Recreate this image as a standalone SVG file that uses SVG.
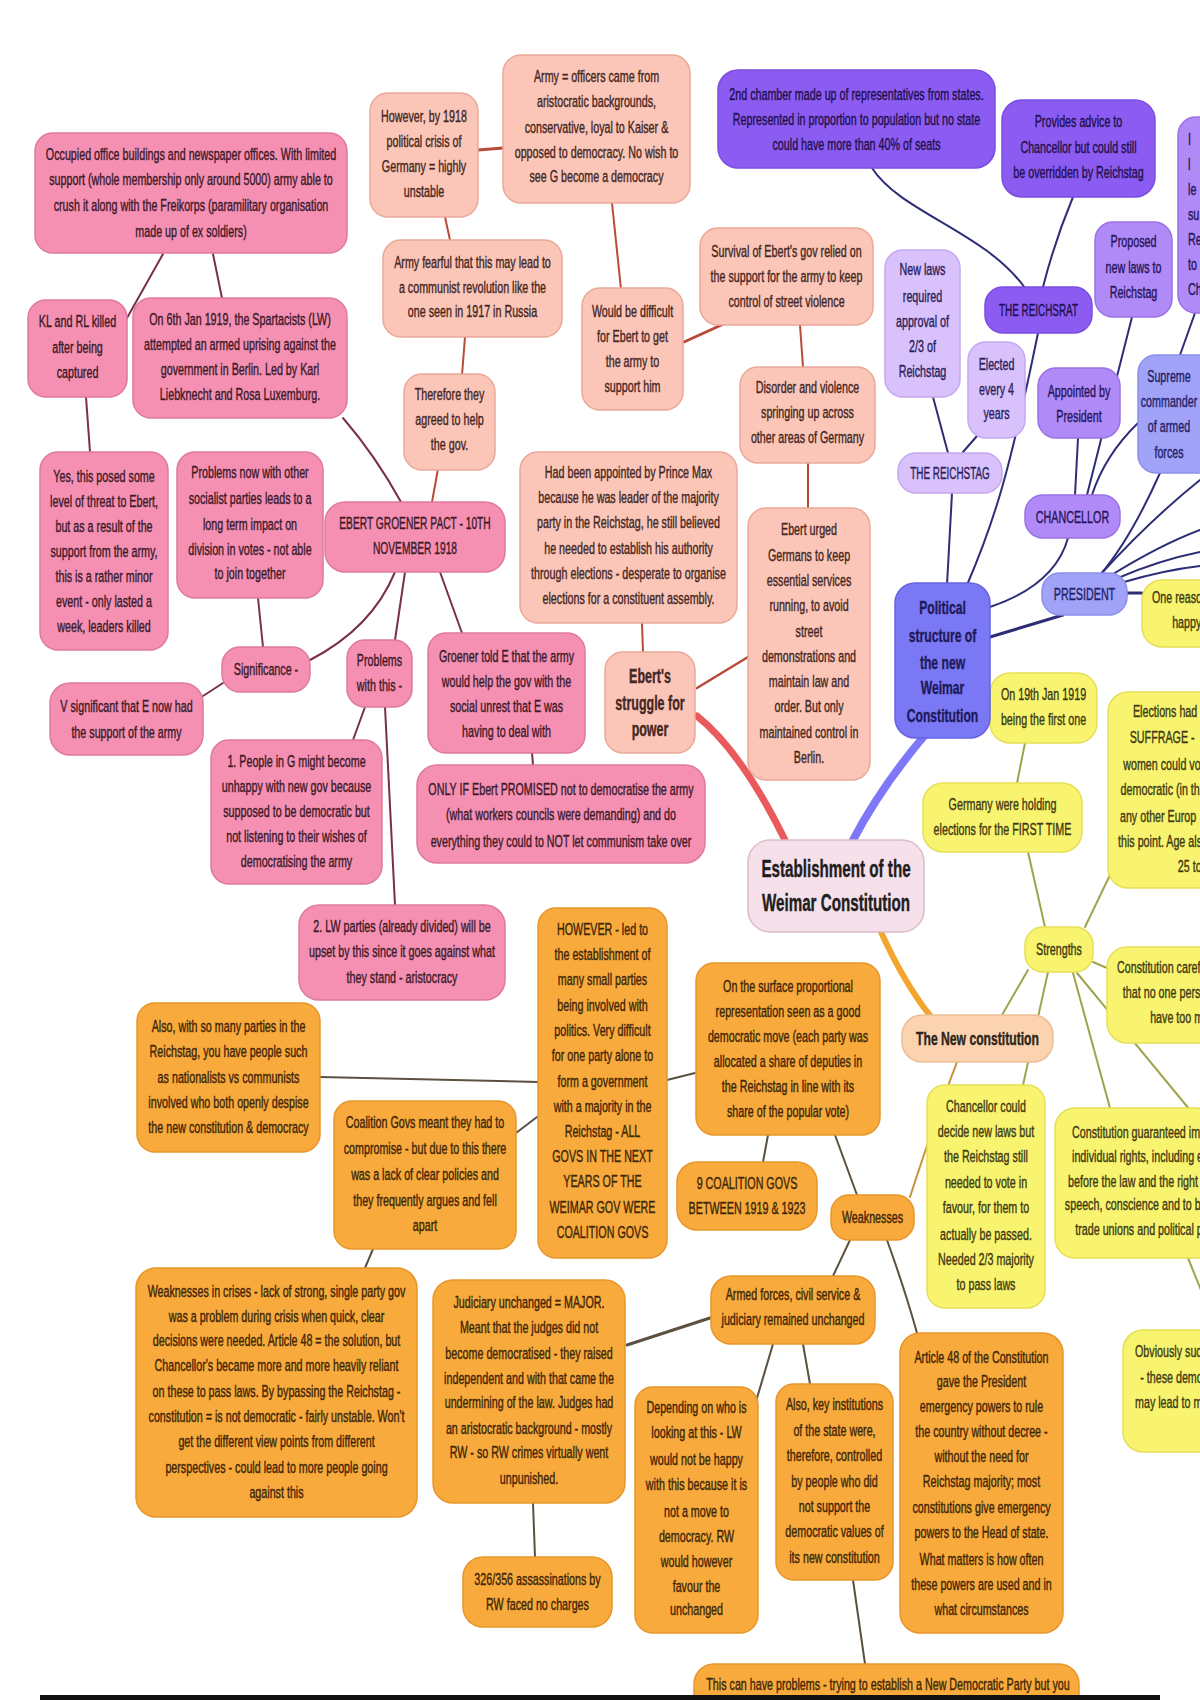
<svg xmlns="http://www.w3.org/2000/svg" width="1200" height="1700" viewBox="0 0 1200 1700">
<style>
.t{font-family:"Liberation Sans",Arial,sans-serif;font-size:16.5px;text-anchor:middle;stroke-width:.4}
.s{text-anchor:start}
.b{font-weight:bold}
rect{stroke-width:1.5}
.pk rect{fill:#f590b3;stroke:#de7a9c}.pk text{fill:#3c1a28;stroke:#3c1a28}
.sa rect{fill:#fbc6b8;stroke:#eaa898}.sa text{fill:#452723;stroke:#452723}
.pd rect{fill:#8c5cf2;stroke:#7a4de0}.pd text{fill:#22104e;stroke:#22104e}
.pm rect{fill:#b08af6;stroke:#9a72e6}.pm text{fill:#26155a;stroke:#26155a}
.pl rect{fill:#d9c2fb;stroke:#c4a8f0}.pl text{fill:#2c1e5c;stroke:#2c1e5c}
.pv rect{fill:#7b78f5;stroke:#6663e2}.pv text{fill:#1e1a5a;stroke:#1e1a5a}
.pb rect{fill:#a1a3f9;stroke:#8c8eec}.pb text{fill:#22226a;stroke:#22226a}
.ye rect{fill:#f9f46f;stroke:#e6df55}.ye text{fill:#3e3a12;stroke:#3e3a12}
.or rect{fill:#f8aa3c;stroke:#e8962a}.or text{fill:#3e2608;stroke:#3e2608}
.nc rect{fill:#fbd3b0;stroke:#ecbe98}.nc text{fill:#2e2418;stroke:#2e2418}
.es rect{fill:#f6e0ea;stroke:#dcbccc}.es text{fill:#1e1e1e;stroke:#1e1e1e}
#links path{fill:none;stroke-linecap:round}
.lp{stroke:#7a3048;stroke-width:2}
.ls{stroke:#b84a38;stroke-width:2}
.lu{stroke:#2e2e78;stroke-width:2}
.ly{stroke:#a0a24c;stroke-width:2}
.lo{stroke:#5c5040;stroke-width:2}
</style>
<rect width="1200" height="1700" fill="#ffffff"/>
<g id="links">
<path class="lp" d="M163,254 L127,318"/>
<path class="lp" d="M213,254 L222,298"/>
<path class="lp" d="M86,397 L90,452"/>
<path class="lp" d="M343,418 Q375,455 401,502"/>
<path class="lp" d="M258,598 L263,647"/>
<path class="lp" d="M203,696 L223,683"/>
<path class="lp" d="M395,572 Q372,628 310,660"/>
<path class="lp" d="M405,572 L395,640"/>
<path class="lp" d="M440,572 L462,633"/>
<path class="lp" d="M365,707 L353,740"/>
<path class="lp" d="M385,707 L395,905"/>
<path class="lp" d="M532,753 L533,765"/>
<path class="ls" style="stroke-width:3" d="M478,150 L503,148"/>
<path class="ls" d="M445,217 L450,240"/>
<path class="ls" d="M465,337 L462,375"/>
<path class="ls" d="M438,469 L432,502"/>
<path class="ls" d="M612,203 L621,289"/>
<path class="ls" style="stroke-width:3" d="M684,342 L728,322"/>
<path class="ls" d="M800,325 L803,367"/>
<path class="ls" d="M808,463 L808,508"/>
<path class="ls" d="M642,623 L643,652"/>
<path class="ls" style="stroke-width:2.5" d="M697,688 L748,657"/>
<path d="M697,716 Q742,752 786,842" style="stroke:#ea5a5c;stroke-width:7"/>
<path d="M852,842 Q880,788 925,735" style="stroke:#7d78f8;stroke-width:8"/>
<path d="M880,930 Q905,985 932,1018" style="stroke:#f4a530;stroke-width:6"/>
<path class="lu" d="M947,585 L952,493"/>
<path class="lu" d="M967,585 C995,520 1010,470 1038,333"/>
<path class="lu" d="M990,607 Q1055,585 1068,538"/>
<path class="lu" style="stroke-width:3" d="M990,637 L1063,615"/>
<path class="lu" d="M948,453 L933,397"/>
<path class="lu" d="M963,452 L977,436"/>
<path class="lu" d="M1025,288 C985,232 900,212 872,168"/>
<path class="lu" d="M1043,287 Q1055,240 1073,197"/>
<path class="lu" d="M1075,495 L1078,438"/>
<path class="lu" d="M1132,317 L1087,495"/>
<path class="lu" d="M1138,423 Q1105,455 1092,495"/>
<path class="lu" d="M1195,313 L1180,355"/>
<path class="lu" d="M1160,473 Q1130,540 1100,575"/>
<path class="lu" d="M1100,575 Q1150,520 1200,480"/>
<path class="lu" d="M1110,576 Q1160,545 1200,530"/>
<path class="lu" d="M1118,578 Q1160,560 1200,552"/>
<path class="lu" d="M1124,582 Q1165,570 1200,566"/>
<path class="lu" style="stroke-width:3" d="M1127,593 L1142,593"/>
<path class="ly" d="M1002,1015 L1028,970"/>
<path class="ly" d="M1048,972 L1023,1085"/>
<path d="M957,1062 Q935,1120 910,1197" style="stroke:#c8903a;stroke-width:2"/>
<path class="ly" d="M1093,962 L1107,968"/>
<path class="ly" d="M1073,973 L1110,1108"/>
<path class="ly" d="M1077,973 L1190,1110"/>
<path class="ly" d="M1188,1258 L1205,1300"/>
<path class="ly" d="M1028,852 L1045,927"/>
<path class="ly" d="M1085,927 L1110,875"/>
<path class="ly" d="M1025,743 L1017,783"/>
<path class="lo" d="M857,1195 L835,1135"/>
<path class="lo" d="M768,1135 L763,1162"/>
<path class="lo" d="M695,1073 L667,1080"/>
<path class="lo" d="M320,1077 L538,1082"/>
<path class="lo" d="M537,1117 L516,1133"/>
<path class="lo" d="M373,1249 L365,1268"/>
<path class="lo" d="M850,1240 L833,1276"/>
<path class="lo" d="M887,1240 Q905,1290 917,1333"/>
<path class="lo" style="stroke-width:3" d="M627,1345 L710,1318"/>
<path class="lo" d="M773,1344 L757,1398"/>
<path class="lo" d="M803,1344 L810,1384"/>
<path class="lo" d="M853,1580 L865,1664"/>
<path class="lo" d="M533,1503 L535,1557"/>
</g>

<g id="occupied" class="pk"><rect x="35" y="133" width="312" height="120" rx="18"/><text class="t" transform="translate(191 0) scale(.65 1)"><tspan x="0" y="160">Occupied office buildings and newspaper offices. With limited</tspan><tspan x="0" y="185">support (whole membership only around 5000) army able to</tspan><tspan x="0" y="211">crush it along with the Freikorps (paramilitary organisation</tspan><tspan x="0" y="237">made up of ex soldiers)</tspan></text></g>
<g id="kl" class="pk"><rect x="28" y="300" width="99" height="97" rx="18"/><text class="t" transform="translate(77.5 0) scale(.65 1)"><tspan x="0" y="327">KL and RL killed</tspan><tspan x="0" y="353">after being</tspan><tspan x="0" y="378">captured</tspan></text></g>
<g id="jan6" class="pk"><rect x="133" y="298" width="214" height="120" rx="18"/><text class="t" transform="translate(240 0) scale(.65 1)"><tspan x="0" y="325">On 6th Jan 1919, the Spartacists (LW)</tspan><tspan x="0" y="350">attempted an armed uprising against the</tspan><tspan x="0" y="375">government in Berlin. Led by Karl</tspan><tspan x="0" y="400">Liebknecht and Rosa Luxemburg.</tspan></text></g>
<g id="however" class="sa"><rect x="370" y="93" width="108" height="124" rx="18"/><text class="t" transform="translate(424 0) scale(.65 1)"><tspan x="0" y="122">However, by 1918</tspan><tspan x="0" y="147">political crisis of</tspan><tspan x="0" y="172">Germany = highly</tspan><tspan x="0" y="197">unstable</tspan></text></g>
<g id="armyoff" class="sa"><rect x="503" y="55" width="187" height="148" rx="18"/><text class="t" transform="translate(596.5 0) scale(.65 1)"><tspan x="0" y="82">Army = officers came from</tspan><tspan x="0" y="107">aristocratic backgrounds,</tspan><tspan x="0" y="133">conservative, loyal to Kaiser &amp;</tspan><tspan x="0" y="158">opposed to democracy. No wish to</tspan><tspan x="0" y="182">see G become a democracy</tspan></text></g>
<g id="fearful" class="sa"><rect x="383" y="240" width="179" height="97" rx="18"/><text class="t" transform="translate(472.5 0) scale(.65 1)"><tspan x="0" y="268">Army fearful that this may lead to</tspan><tspan x="0" y="293">a communist revolution like the</tspan><tspan x="0" y="317">one seen in 1917 in Russia</tspan></text></g>
<g id="difficult" class="sa"><rect x="582" y="288" width="101" height="122" rx="18"/><text class="t" transform="translate(632.5 0) scale(.65 1)"><tspan x="0" y="317">Would be difficult</tspan><tspan x="0" y="342">for Ebert to get</tspan><tspan x="0" y="367">the army to</tspan><tspan x="0" y="392">support him</tspan></text></g>
<g id="therefore" class="sa"><rect x="404" y="374" width="91" height="96" rx="18"/><text class="t" transform="translate(449.5 0) scale(.65 1)"><tspan x="0" y="400">Therefore they</tspan><tspan x="0" y="425">agreed to help</tspan><tspan x="0" y="450">the gov.</tspan></text></g>
<g id="chamber2" class="pd"><rect x="718" y="70" width="277" height="98" rx="20"/><text class="t" transform="translate(856.5 0) scale(.65 1)"><tspan x="0" y="100">2nd chamber made up of representatives from states.</tspan><tspan x="0" y="125">Represented in proportion to population but no state</tspan><tspan x="0" y="150">could have more than 40% of seats</tspan></text></g>
<g id="advice" class="pd"><rect x="1002" y="100" width="153" height="97" rx="20"/><text class="t" transform="translate(1078.5 0) scale(.65 1)"><tspan x="0" y="127">Provides advice to</tspan><tspan x="0" y="153">Chancellor but could still</tspan><tspan x="0" y="178">be overridden by Reichstag</tspan></text></g>
<g id="survival" class="sa"><rect x="700" y="228" width="173" height="97" rx="18"/><text class="t" transform="translate(786.5 0) scale(.65 1)"><tspan x="0" y="257">Survival of Ebert's gov relied on</tspan><tspan x="0" y="282">the support for the army to keep</tspan><tspan x="0" y="307">control of street violence</tspan></text></g>
<g id="newlaws" class="pl"><rect x="885" y="250" width="75" height="147" rx="18"/><text class="t" transform="translate(922.5 0) scale(.65 1)"><tspan x="0" y="275">New laws</tspan><tspan x="0" y="302">required</tspan><tspan x="0" y="327">approval of</tspan><tspan x="0" y="352">2/3 of</tspan><tspan x="0" y="377">Reichstag</tspan></text></g>
<g id="reichsrat" class="pd"><rect x="985" y="287" width="107" height="46" rx="18"/><text class="t" transform="translate(1038.5 0) scale(.6 1)"><tspan x="0" y="316">THE REICHSRAT</tspan></text></g>
<g id="proposed" class="pm"><rect x="1095" y="222" width="77" height="95" rx="18"/><text class="t" transform="translate(1133.5 0) scale(.65 1)"><tspan x="0" y="247">Proposed</tspan><tspan x="0" y="273">new laws to</tspan><tspan x="0" y="298">Reichstag</tspan></text></g>
<g id="rightedge" class="pm"><rect x="1178" y="117" width="70" height="196" rx="18"/><text class="t s" transform="translate(1188 0) scale(.65 1)"><tspan x="0" y="145">I</tspan><tspan x="0" y="170">l</tspan><tspan x="0" y="195">le</tspan><tspan x="0" y="220">su</tspan><tspan x="0" y="245">Re</tspan><tspan x="0" y="270">to</tspan><tspan x="0" y="295">Ch</tspan></text></g>
<g id="apptpres" class="pm"><rect x="1038" y="368" width="82" height="70" rx="18"/><text class="t" transform="translate(1079 0) scale(.65 1)"><tspan x="0" y="397">Appointed by</tspan><tspan x="0" y="422">President</tspan></text></g>
<g id="elected" class="pl"><rect x="968" y="342" width="57" height="96" rx="18"/><text class="t" transform="translate(996.5 0) scale(.65 1)"><tspan x="0" y="370">Elected</tspan><tspan x="0" y="395">every 4</tspan><tspan x="0" y="419">years</tspan></text></g>
<g id="reichstag" class="pl"><rect x="898" y="453" width="104" height="40" rx="18"/><text class="t" transform="translate(950 0) scale(.6 1)"><tspan x="0" y="479">THE REICHSTAG</tspan></text></g>
<g id="supreme" class="pb"><rect x="1138" y="355" width="90" height="118" rx="18"/><text class="t" transform="translate(1169 0) scale(.65 1)"><tspan x="0" y="382">Supreme</tspan><tspan x="0" y="407">commander</tspan><tspan x="0" y="432">of armed</tspan><tspan x="0" y="458">forces</tspan></text></g>
<g id="disorder" class="sa"><rect x="740" y="367" width="135" height="96" rx="18"/><text class="t" transform="translate(807.5 0) scale(.65 1)"><tspan x="0" y="393">Disorder and violence</tspan><tspan x="0" y="418">springing up across</tspan><tspan x="0" y="443">other areas of Germany</tspan></text></g>
<g id="hadbeen" class="sa"><rect x="520" y="452" width="217" height="171" rx="18"/><text class="t" transform="translate(628.5 0) scale(.65 1)"><tspan x="0" y="478">Had been appointed by Prince Max</tspan><tspan x="0" y="503">because he was leader of the majority</tspan><tspan x="0" y="528">party in the Reichstag, he still believed</tspan><tspan x="0" y="554">he needed to establish his authority</tspan><tspan x="0" y="579">through elections - desperate to organise</tspan><tspan x="0" y="604">elections for a constituent assembly.</tspan></text></g>
<g id="urged" class="sa"><rect x="748" y="508" width="122" height="272" rx="18"/><text class="t" transform="translate(809 0) scale(.65 1)"><tspan x="0" y="535">Ebert urged</tspan><tspan x="0" y="561">Germans to keep</tspan><tspan x="0" y="586">essential services</tspan><tspan x="0" y="611">running, to avoid</tspan><tspan x="0" y="637">street</tspan><tspan x="0" y="662">demonstrations and</tspan><tspan x="0" y="687">maintain law and</tspan><tspan x="0" y="712">order. But only</tspan><tspan x="0" y="738">maintained control in</tspan><tspan x="0" y="763">Berlin.</tspan></text></g>
<g id="struggle" class="sa"><rect x="605" y="652" width="90" height="101" rx="18"/><text class="t b" style="font-size:19.5px" transform="translate(650 0) scale(.64 1)"><tspan x="0" y="683">Ebert's</tspan><tspan x="0" y="710">struggle for</tspan><tspan x="0" y="736">power</tspan></text></g>
<g id="groener" class="pk"><rect x="428" y="633" width="157" height="120" rx="18"/><text class="t" transform="translate(506.5 0) scale(.65 1)"><tspan x="0" y="662">Groener told E that the army</tspan><tspan x="0" y="687">would help the gov with the</tspan><tspan x="0" y="712">social unrest that E was</tspan><tspan x="0" y="737">having to deal with</tspan></text></g>
<g id="onlyif" class="pk"><rect x="417" y="765" width="288" height="98" rx="20"/><text class="t" transform="translate(561 0) scale(.65 1)"><tspan x="0" y="795">ONLY IF Ebert PROMISED not to democratise the army</tspan><tspan x="0" y="820">(what workers councils were demanding) and do</tspan><tspan x="0" y="847">everything they could to NOT let communism take over</tspan></text></g>
<g id="pact" class="pk"><rect x="325" y="502" width="180" height="70" rx="20"/><text class="t" transform="translate(415 0) scale(.62 1)"><tspan x="0" y="529">EBERT GROENER PACT - 10TH</tspan><tspan x="0" y="554">NOVEMBER 1918</tspan></text></g>
<g id="yes" class="pk"><rect x="40" y="452" width="128" height="198" rx="18"/><text class="t" transform="translate(104 0) scale(.65 1)"><tspan x="0" y="482">Yes, this posed some</tspan><tspan x="0" y="507">level of threat to Ebert,</tspan><tspan x="0" y="532">but as a result of the</tspan><tspan x="0" y="557">support from the army,</tspan><tspan x="0" y="582">this is a rather minor</tspan><tspan x="0" y="607">event - only lasted a</tspan><tspan x="0" y="632">week, leaders killed</tspan></text></g>
<g id="probnow" class="pk"><rect x="177" y="452" width="146" height="146" rx="18"/><text class="t" transform="translate(250 0) scale(.65 1)"><tspan x="0" y="478">Problems now with other</tspan><tspan x="0" y="504">socialist parties leads to a</tspan><tspan x="0" y="530">long term impact on</tspan><tspan x="0" y="555">division in votes - not able</tspan><tspan x="0" y="579">to join together</tspan></text></g>
<g id="signif" class="pk"><rect x="222" y="647" width="88" height="45" rx="18"/><text class="t" transform="translate(266 0) scale(.65 1)"><tspan x="0" y="675">Significance -</tspan></text></g>
<g id="vsig" class="pk"><rect x="50" y="683" width="153" height="72" rx="20"/><text class="t" transform="translate(126.5 0) scale(.65 1)"><tspan x="0" y="712">V significant that E now had</tspan><tspan x="0" y="738">the support of the army</tspan></text></g>
<g id="probthis" class="pk"><rect x="347" y="640" width="65" height="67" rx="18"/><text class="t" transform="translate(379.5 0) scale(.65 1)"><tspan x="0" y="666">Problems</tspan><tspan x="0" y="691">with this -</tspan></text></g>
<g id="people" class="pk"><rect x="211" y="740" width="171" height="144" rx="18"/><text class="t" transform="translate(296.5 0) scale(.65 1)"><tspan x="0" y="767">1. People in G might become</tspan><tspan x="0" y="792">unhappy with new gov because</tspan><tspan x="0" y="817">supposed to be democratic but</tspan><tspan x="0" y="842">not listening to their wishes of</tspan><tspan x="0" y="867">democratising the army</tspan></text></g>
<g id="lw" class="pk"><rect x="299" y="905" width="206" height="95" rx="20"/><text class="t" transform="translate(402 0) scale(.65 1)"><tspan x="0" y="932">2. LW parties (already divided) will be</tspan><tspan x="0" y="957">upset by this since it goes against what</tspan><tspan x="0" y="983">they stand - aristocracy</tspan></text></g>

<g id="also" class="or"><rect x="137" y="1003" width="183" height="149" rx="18"/><text class="t" transform="translate(228.5 0) scale(.65 1)"><tspan x="0" y="1032">Also, with so many parties in the</tspan><tspan x="0" y="1057">Reichstag, you have people such</tspan><tspan x="0" y="1083">as nationalists vs communists</tspan><tspan x="0" y="1108">involved who both openly despise</tspan><tspan x="0" y="1133">the new constitution &amp; democracy</tspan></text></g>
<g id="coalition" class="or"><rect x="334" y="1101" width="182" height="148" rx="18"/><text class="t" transform="translate(425 0) scale(.65 1)"><tspan x="0" y="1128">Coalition Govs meant they had to</tspan><tspan x="0" y="1154">compromise - but due to this there</tspan><tspan x="0" y="1180">was a lack of clear policies and</tspan><tspan x="0" y="1206">they frequently argues and fell</tspan><tspan x="0" y="1231">apart</tspan></text></g>
<g id="howevercoal" class="or"><rect x="538" y="908" width="129" height="350" rx="18"/><text class="t" transform="translate(602.5 0) scale(.65 1)"><tspan x="0" y="935">HOWEVER - led to</tspan><tspan x="0" y="960">the establishment of</tspan><tspan x="0" y="985">many small parties</tspan><tspan x="0" y="1011">being involved with</tspan><tspan x="0" y="1036">politics. Very difficult</tspan><tspan x="0" y="1061">for one party alone to</tspan><tspan x="0" y="1087">form a government</tspan><tspan x="0" y="1112">with a majority in the</tspan><tspan x="0" y="1137">Reichstag - ALL</tspan><tspan x="0" y="1162">GOVS IN THE NEXT</tspan><tspan x="0" y="1187">YEARS OF THE</tspan><tspan x="0" y="1213">WEIMAR GOV WERE</tspan><tspan x="0" y="1238">COALITION GOVS</tspan></text></g>
<g id="surface" class="or"><rect x="696" y="963" width="184" height="172" rx="18"/><text class="t" transform="translate(788 0) scale(.65 1)"><tspan x="0" y="992">On the surface proportional</tspan><tspan x="0" y="1017">representation seen as a good</tspan><tspan x="0" y="1042">democratic move (each party was</tspan><tspan x="0" y="1067">allocated a share of deputies in</tspan><tspan x="0" y="1092">the Reichstag in line with its</tspan><tspan x="0" y="1117">share of the popular vote)</tspan></text></g>
<g id="nine" class="or"><rect x="677" y="1162" width="140" height="68" rx="20"/><text class="t" transform="translate(747 0) scale(.65 1)"><tspan x="0" y="1189">9 COALITION GOVS</tspan><tspan x="0" y="1214">BETWEEN 1919 &amp; 1923</tspan></text></g>
<g id="weak" class="or"><rect x="831" y="1195" width="83" height="45" rx="18"/><text class="t" transform="translate(872.5 0) scale(.65 1)"><tspan x="0" y="1223">Weaknesses</tspan></text></g>
<g id="crises" class="or"><rect x="136" y="1268" width="281" height="249" rx="20"/><text class="t" transform="translate(276.5 0) scale(.65 1)"><tspan x="0" y="1297">Weaknesses in crises - lack of strong, single party gov</tspan><tspan x="0" y="1322">was a problem during crisis when quick, clear</tspan><tspan x="0" y="1346">decisions were needed. Article 48 = the solution, but</tspan><tspan x="0" y="1371">Chancellor's became more and more heavily reliant</tspan><tspan x="0" y="1397">on these to pass laws. By bypassing the Reichstag -</tspan><tspan x="0" y="1422">constitution = is not democratic - fairly unstable. Won't</tspan><tspan x="0" y="1447">get the different view points from different</tspan><tspan x="0" y="1473">perspectives - could lead to more people going</tspan><tspan x="0" y="1498">against this</tspan></text></g>
<g id="judiciary" class="or"><rect x="433" y="1280" width="192" height="223" rx="20"/><text class="t" transform="translate(529 0) scale(.65 1)"><tspan x="0" y="1308">Judiciary unchanged = MAJOR.</tspan><tspan x="0" y="1333">Meant that the judges did not</tspan><tspan x="0" y="1359">become democratised - they raised</tspan><tspan x="0" y="1384">independent and with that came the</tspan><tspan x="0" y="1408">undermining of the law. Judges had</tspan><tspan x="0" y="1434">an aristocratic background - mostly</tspan><tspan x="0" y="1458">RW - so RW crimes virtually went</tspan><tspan x="0" y="1484">unpunished.</tspan></text></g>
<g id="assass" class="or"><rect x="463" y="1557" width="149" height="70" rx="20"/><text class="t" transform="translate(537.5 0) scale(.65 1)"><tspan x="0" y="1585">326/356 assassinations by</tspan><tspan x="0" y="1610">RW faced no charges</tspan></text></g>
<g id="armed" class="or"><rect x="711" y="1276" width="164" height="68" rx="20"/><text class="t" transform="translate(793 0) scale(.65 1)"><tspan x="0" y="1300">Armed forces, civil service &amp;</tspan><tspan x="0" y="1325">judiciary remained unchanged</tspan></text></g>
<g id="depending" class="or"><rect x="635" y="1387" width="123" height="246" rx="18"/><text class="t" transform="translate(696.5 0) scale(.65 1)"><tspan x="0" y="1413">Depending on who is</tspan><tspan x="0" y="1438">looking at this - LW</tspan><tspan x="0" y="1465">would not be happy</tspan><tspan x="0" y="1490">with this because it is</tspan><tspan x="0" y="1517">not a move to</tspan><tspan x="0" y="1542">democracy. RW</tspan><tspan x="0" y="1567">would however</tspan><tspan x="0" y="1592">favour the</tspan><tspan x="0" y="1615">unchanged</tspan></text></g>
<g id="alsokey" class="or"><rect x="776" y="1384" width="117" height="196" rx="18"/><text class="t" transform="translate(834.5 0) scale(.65 1)"><tspan x="0" y="1410">Also, key institutions</tspan><tspan x="0" y="1436">of the state were,</tspan><tspan x="0" y="1461">therefore, controlled</tspan><tspan x="0" y="1487">by people who did</tspan><tspan x="0" y="1512">not support the</tspan><tspan x="0" y="1537">democratic values of</tspan><tspan x="0" y="1563">its new constitution</tspan></text></g>
<g id="art48" class="or"><rect x="900" y="1333" width="163" height="300" rx="20"/><text class="t" transform="translate(981.5 0) scale(.65 1)"><tspan x="0" y="1363">Article 48 of the Constitution</tspan><tspan x="0" y="1387">gave the President</tspan><tspan x="0" y="1412">emergency powers to rule</tspan><tspan x="0" y="1437">the country without decree -</tspan><tspan x="0" y="1462">without the need for</tspan><tspan x="0" y="1487">Reichstag majority; most</tspan><tspan x="0" y="1513">constitutions give emergency</tspan><tspan x="0" y="1538">powers to the Head of state.</tspan><tspan x="0" y="1565">What matters is how often</tspan><tspan x="0" y="1590">these powers are used and in</tspan><tspan x="0" y="1615">what circumstances</tspan></text></g>
<g id="thiscan" class="or"><rect x="694" y="1664" width="385" height="60" rx="20"/><text class="t" transform="translate(888 0) scale(.65 1)"><tspan x="0" y="1690">This can have problems - trying to establish a New Democratic Party but you</tspan></text></g>

<g id="newconst" class="nc"><rect x="902" y="1015" width="151" height="47" rx="20"/><text class="t b" style="font-size:19px" transform="translate(977.5 0) scale(.64 1)"><tspan x="0" y="1045">The New constitution</tspan></text></g>
<g id="strengths" class="ye"><rect x="1025" y="927" width="68" height="45" rx="18"/><text class="t" transform="translate(1059 0) scale(.65 1)"><tspan x="0" y="955">Strengths</tspan></text></g>
<g id="chancdecide" class="ye"><rect x="927" y="1085" width="118" height="223" rx="18"/><text class="t" transform="translate(986 0) scale(.65 1)"><tspan x="0" y="1112">Chancellor could</tspan><tspan x="0" y="1137">decide new laws but</tspan><tspan x="0" y="1162">the Reichstag still</tspan><tspan x="0" y="1188">needed to vote in</tspan><tspan x="0" y="1213">favour, for them to</tspan><tspan x="0" y="1240">actually be passed.</tspan><tspan x="0" y="1265">Needed 2/3 majority</tspan><tspan x="0" y="1290">to pass laws</tspan></text></g>
<g id="careful" class="ye"><rect x="1107" y="947" width="130" height="96" rx="20"/><text class="t s" transform="translate(1117 0) scale(.65 1)"><tspan x="0" y="973">Constitution caref</tspan><tspan x="9" y="998">that no one pers</tspan><tspan x="51" y="1023">have too m</tspan></text></g>
<g id="guaranteed" class="ye"><rect x="1055" y="1108" width="160" height="150" rx="20"/><text class="t s" transform="translate(1072 0) scale(.65 1)"><tspan x="0" y="1138">Constitution guaranteed im</tspan><tspan x="0" y="1162">individual rights, including e</tspan><tspan x="-6" y="1187">before the law and the right</tspan><tspan x="-11" y="1210">speech, conscience and to b</tspan><tspan x="5" y="1235">trade unions and political p</tspan></text></g>
<g id="on19" class="ye"><rect x="990" y="673" width="107" height="70" rx="20"/><text class="t" transform="translate(1043.5 0) scale(.65 1)"><tspan x="0" y="700">On 19th Jan 1919</tspan><tspan x="0" y="725">being the first one</tspan></text></g>
<g id="germany" class="ye"><rect x="923" y="783" width="159" height="69" rx="20"/><text class="t" transform="translate(1002.5 0) scale(.65 1)"><tspan x="0" y="810">Germany were holding</tspan><tspan x="0" y="835">elections for the FIRST TIME</tspan></text></g>
<g id="elections" class="ye"><rect x="1108" y="692" width="130" height="196" rx="20"/><text class="t s" transform="translate(1118 0) scale(.65 1)"><tspan x="23" y="717">Elections had</tspan><tspan x="18" y="743">SUFFRAGE - </tspan><tspan x="8" y="770">women could vo</tspan><tspan x="4" y="795">democratic (in th</tspan><tspan x="3" y="822">any other Europ</tspan><tspan x="0" y="847">this point. Age als</tspan><tspan x="92" y="872">25 to</tspan></text></g>
<g id="onereason" class="ye"><rect x="1142" y="580" width="90" height="67" rx="20"/><text class="t s" transform="translate(1152 0) scale(.65 1)"><tspan x="0" y="603">One reaso</tspan><tspan x="31" y="628">happy</tspan></text></g>
<g id="obviously" class="ye"><rect x="1123" y="1330" width="110" height="122" rx="20"/><text class="t s" transform="translate(1135 0) scale(.65 1)"><tspan x="0" y="1357">Obviously suc</tspan><tspan x="8" y="1383">- these demo</tspan><tspan x="0" y="1408">may lead to m</tspan></text></g>

<g id="political" class="pv"><rect x="895" y="583" width="95" height="155" rx="20"/><text class="t b" style="font-size:19px" transform="translate(942.5 0) scale(.64 1)"><tspan x="0" y="614">Political</tspan><tspan x="0" y="642">structure of</tspan><tspan x="0" y="669">the new</tspan><tspan x="0" y="694">Weimar</tspan><tspan x="0" y="722">Constitution</tspan></text></g>
<g id="chancellor" class="pm"><rect x="1025" y="495" width="95" height="43" rx="18"/><text class="t" transform="translate(1072.5 0) scale(.65 1)"><tspan x="0" y="523">CHANCELLOR</tspan></text></g>
<g id="president" class="pb"><rect x="1042" y="573" width="85" height="42" rx="18"/><text class="t" transform="translate(1084.5 0) scale(.65 1)"><tspan x="0" y="600">PRESIDENT</tspan></text></g>
<g id="establishment" class="es"><rect x="748" y="840" width="176" height="92" rx="22"/><text class="t b" style="font-size:23px" transform="translate(836 0) scale(.66 1)"><tspan x="0" y="877">Establishment of the</tspan><tspan x="0" y="911">Weimar Constitution</tspan></text></g>

<rect x="40" y="1695" width="1120" height="5" fill="#111111"/>
</svg>
